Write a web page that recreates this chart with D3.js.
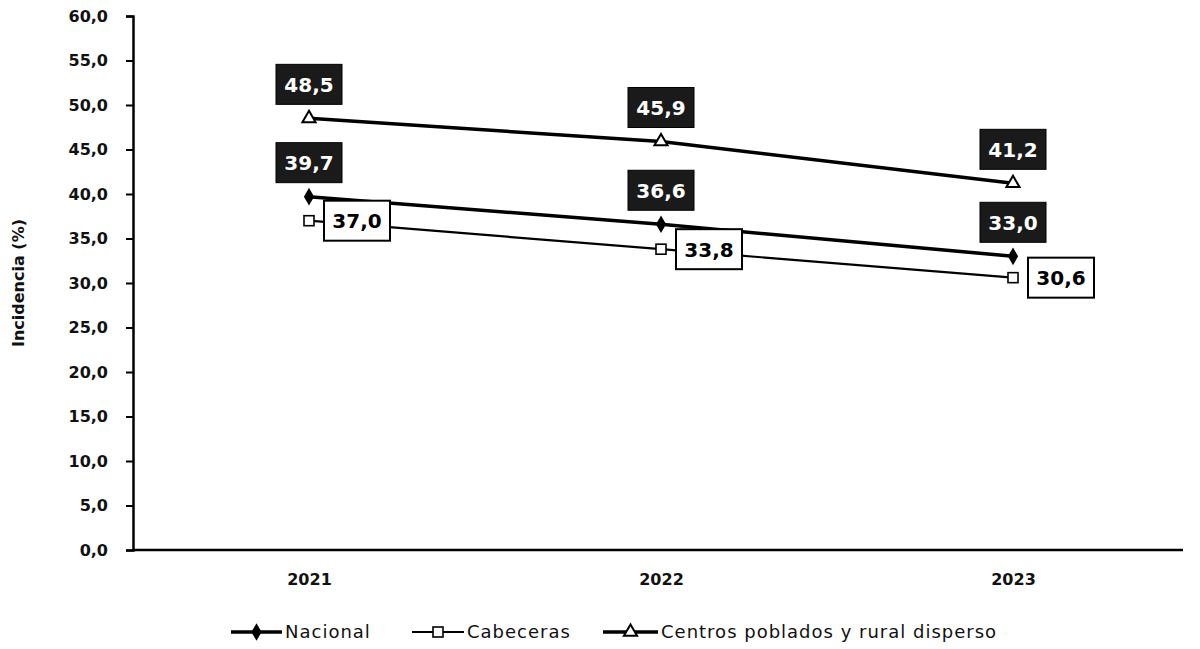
<!DOCTYPE html>
<html><head><meta charset="utf-8">
<script src="https://cdn.jsdelivr.net/npm/d3@7"></script>
<style>
body{margin:0;background:#fff;}
svg{display:block;font-family:"DejaVu Sans",sans-serif;}
</style></head>
<body><svg id="c" width="1200" height="649"></svg>
<script>
const years = ["2021","2022","2023"];
const nacional = [39.7, 36.6, 33.0];
const cabeceras = [37.0, 33.8, 30.6];
const centros = [48.5, 45.9, 41.2];
const yTicks = [0,5,10,15,20,25,30,35,40,45,50,55,60];
const seriesNames = ["Nacional","Cabeceras","Centros poblados y rural disperso"];

const FONT = "'DejaVu Sans',sans-serif";
const svg = d3.select("#c");
const x = d3.scalePoint().domain(years).range([133,1189]).padding(0.5);
const y = d3.scaleLinear().domain([0,60]).range([550,16]);
const fmt = v => d3.format(".1f")(v).replace(".", ",");

// axes
const ya = svg.append("g").attr("transform","translate(133,0)")
  .call(d3.axisLeft(y).tickValues(yTicks).tickFormat(fmt).tickSize(7).tickPadding(18));
ya.select(".domain").attr("stroke","#000").attr("stroke-width",2.5);
ya.selectAll(".tick line").attr("stroke","#000").attr("stroke-width",2);
ya.selectAll("text").attr("font-size",16).attr("font-weight",700).attr("fill","#111")
  .attr("font-family",FONT);

const xa = svg.append("g").attr("transform","translate(0,550)")
  .call(d3.axisBottom(x).tickSize(0).tickPadding(24));
xa.select(".domain").attr("stroke","#000").attr("stroke-width",2.5)
  .attr("d","M133,0H1183");
xa.selectAll("text").attr("font-size",16).attr("font-weight",700).attr("fill","#111")
  .attr("font-family",FONT);

svg.append("text").attr("transform","translate(24,283) rotate(-90)")
  .attr("text-anchor","middle").attr("font-size",16).attr("font-weight",700)
  .attr("fill","#111").text("Incidencia (%)");

const line = d3.line().x((d,i)=>x(years[i])).y(d=>y(d));

const series = [
  {name:seriesNames[0], values:nacional, w:3.5, marker:"diamond", label:"dark", dx:0, dy:-34},
  {name:seriesNames[1], values:cabeceras, w:2.2, marker:"square", label:"light", dx:48, dy:0},
  {name:seriesNames[2], values:centros, w:3.5, marker:"triangle", label:"dark", dx:0, dy:-34},
];

function drawMarker(g, type, cx, cy){
  if(type==="diamond"){
    g.append("path").attr("d",d3.symbol(d3.symbolDiamond, 90)())
      .attr("transform",`translate(${cx},${cy})`).attr("fill","#000");
  } else if(type==="square"){
    g.append("rect").attr("x",cx-5).attr("y",cy-5).attr("width",10).attr("height",10)
      .attr("fill","#fff").attr("stroke","#000").attr("stroke-width",1.6);
  } else {
    g.append("path").attr("d",d3.symbol(d3.symbolTriangle, 75)())
      .attr("transform",`translate(${cx},${cy})`)
      .attr("fill","#fff").attr("stroke","#000").attr("stroke-width",2);
  }
}

series.forEach(s=>{
  svg.append("path").datum(s.values).attr("d",line).attr("fill","none")
    .attr("stroke","#000").attr("stroke-width",s.w);
  s.values.forEach((v,i)=>drawMarker(svg, s.marker, x(years[i]), y(v)));
});

// labels
series.forEach(s=>{
  s.values.forEach((v,i)=>{
    const cx = x(years[i]) + s.dx, cy = y(v) + s.dy;
    const g = svg.append("g");
    g.append("rect").attr("x",cx-33).attr("y",cy-20).attr("width",66).attr("height",40)
      .attr("fill", s.label==="dark" ? "#1a1a1a" : "#fff")
      .attr("stroke","#000").attr("stroke-width", s.label==="dark"?1:2);
    g.append("text").attr("x",cx).attr("y",cy).attr("dy","0.37em")
      .attr("text-anchor","middle").attr("font-size",20).attr("font-weight",700)
      .attr("fill", s.label==="dark" ? "#fff" : "#000").text(fmt(v));
  });
});

// legend
const legend = [
  {name:seriesNames[0], marker:"diamond", w:3.5, x0:231, x1:282},
  {name:seriesNames[1], marker:"square", w:2.2, x0:412, x1:464},
  {name:seriesNames[2], marker:"triangle", w:3.5, x0:603, x1:658},
];
const lg = svg.append("g");
const ly = 632;
legend.forEach(l=>{
  lg.append("line").attr("x1",l.x0).attr("x2",l.x1).attr("y1",ly).attr("y2",ly)
    .attr("stroke","#000").attr("stroke-width",l.w);
  drawMarker(lg, l.marker, (l.x0+l.x1)/2, ly);
  lg.append("text").attr("x",l.x1+3).attr("y",ly).attr("dy","0.36em")
    .attr("font-size",18).attr("letter-spacing",1).attr("fill","#111").text(l.name);
});
</script></body></html>
